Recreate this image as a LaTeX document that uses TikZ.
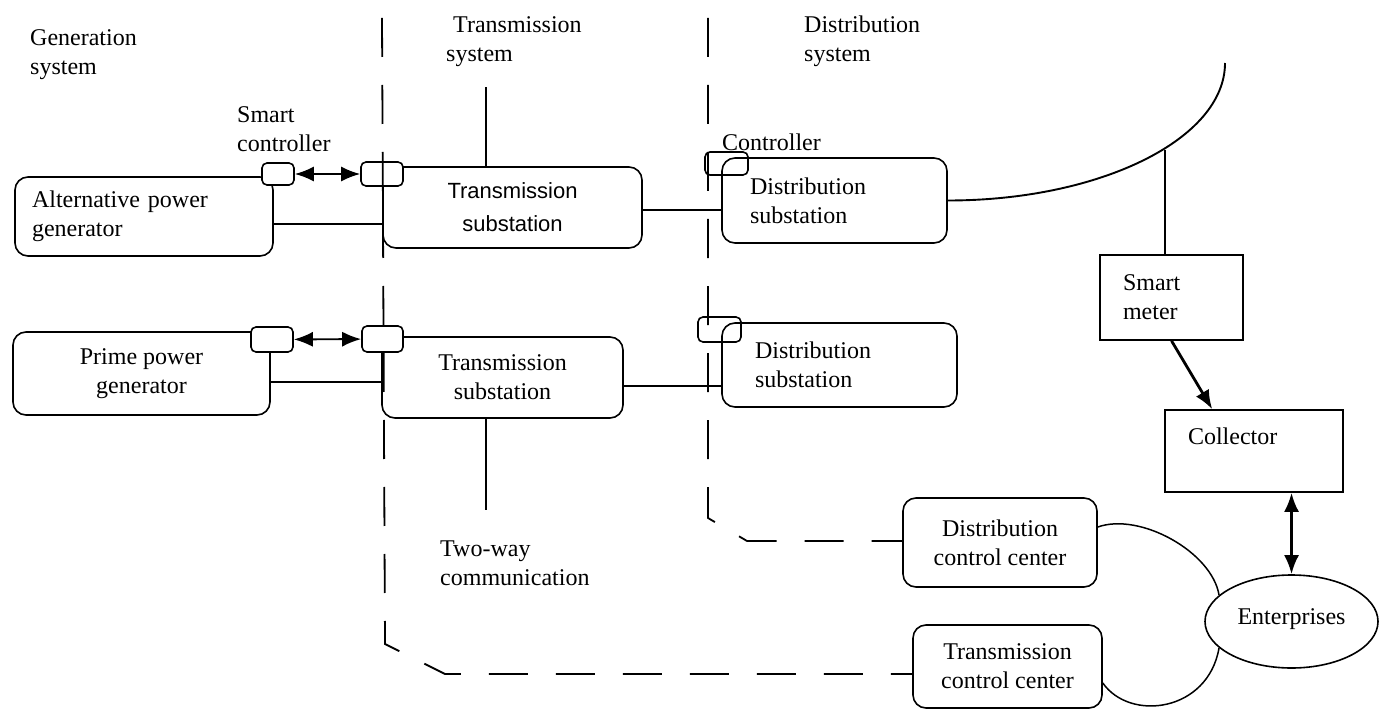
\documentclass[tikz,border=0pt]{standalone}
\usepackage{fontspec}
\setmainfont{Liberation Serif}
\newfontfamily\subfont{Liberation Sans}
\usepackage{tikz}
\usetikzlibrary{calc}
\usetikzlibrary{arrows.meta}
\usetikzlibrary{shapes.geometric}
\tikzstyle{every node}=[font=\fontsize{24}{29}\selectfont, inner sep=0pt]
\tikzstyle{unit}=[draw, line width=1.6pt, rounded corners=13pt]
\tikzstyle{plainbox}=[draw, line width=1.6pt]
\tikzstyle{ctrl}=[draw, line width=1.6pt, rounded corners=5pt]
\tikzstyle{wire}=[line width=2.8pt]
\tikzstyle{link}=[line width=1.9pt]
\tikzstyle{border}=[line width=1.8pt, dash pattern=on 39pt off 28pt]
\tikzstyle{lbl}=[align=left, anchor=north west]

\begin{document}
\begin{tikzpicture}[x=1pt, y=-1pt, >={Latex[length=19pt,width=15pt]}]
        \useasboundingbox (0,0) rectangle (1380,711);
        % generation and transmission
        \node[unit, minimum width=258pt, minimum height=79pt, inner xsep=17pt, text width=224pt, align=left] (altgen) at (144,216.5) {Alternative power\\generator};
        \node[unit, minimum width=257pt, minimum height=83pt, align=center] (primegen) at (141.5,373.5) {Prime power\\generator};
        \node[unit, minimum width=259pt, minimum height=81pt, align=center, font=\subfont\fontsize{22}{33}\selectfont] (tsubA) at (512.5,207.5) {Transmission\\substation};
        \node[unit, minimum width=241pt, minimum height=81pt, align=center] (tsubB) at (502.5,377.5) {Transmission\\substation};
        % distribution
        \node[unit, minimum width=225pt, minimum height=85pt, inner xsep=28pt, text width=169pt, align=left] (dsubA) at (834.5,200.5) {Distribution\\substation};
        \node[unit, minimum width=235pt, minimum height=84pt, inner xsep=33pt, text width=169pt, align=left] (dsubB) at (839.5,365) {Distribution\\substation};
        \node[unit, minimum width=194pt, minimum height=89pt, align=center] (dcc) at (1000,542.5) {Distribution\\control center};
        \node[unit, minimum width=189pt, minimum height=83pt, align=center] (tcc) at (1007.5,666.5) {Transmission\\control center};
        \node[plainbox, minimum width=143pt, minimum height=85pt, inner xsep=23pt, text width=97pt, align=left] (meter) at (1171.5,297.5) {Smart\\meter};
        \node[plainbox, minimum width=178pt, minimum height=82pt, inner xsep=23pt, text width=132pt, align=left, text depth=30pt] (coll) at (1254,451) {Collector};
        \node[draw, ellipse, line width=1.6pt, minimum width=173pt, minimum height=93pt, text depth=10pt] (ent) at (1291.5,621.5) {Enterprises};
        % controllers
        \node[ctrl, fill=white, minimum width=32pt, minimum height=22pt] (ctlA) at (278,174) {};
        \node[ctrl, fill=white, minimum width=42pt, minimum height=24pt] (ctlB) at (382,174) {};
        \node[ctrl, fill=white, minimum width=42pt, minimum height=25pt] (ctlC) at (272,339.5) {};
        \node[ctrl, fill=white, minimum width=41pt, minimum height=26pt] (ctlD) at (382.5,339) {};
        \node[ctrl, minimum width=43pt, minimum height=23pt] (ctlE) at (726.5,163.5) {};
        \node[ctrl, minimum width=43pt, minimum height=25pt] (ctlF) at (719.5,329.5) {};
        % texts
        \node[lbl] (gensys) at (30,29) {Generation\\system};
        \node[lbl] (transys) at (446,16) {\hspace*{7pt}Transmission\\system};
        \node[lbl] (distsys) at (804,16) {Distribution\\system};
        \node[lbl] (smartctl) at (237,106) {Smart\\controller};
        \node[lbl] (ctltxt) at (722,134) {Controller};
        \node[lbl] (twoway) at (440,541) {Two-way\\communication};
        \coordinate (tsTop) at (486,87);
        \coordinate (tsBot) at (486,510);
        \coordinate (feedEnd) at (1225,63);
        \coordinate (tap) at (1165,150);
        % links
        \draw[<->, link] (ctlA) -- (ctlB);
        \draw[<->, link] (ctlC) -- (ctlD);
        \draw[wire] (altgen.east |- 0,224) -- (tsubA.west |- 0,224);
        \draw[wire] (primegen.east |- 0,382) -- (tsubB.west |- 0,382);
        \draw[wire] (tsubA.north -| tsTop) -- (tsTop);
        \draw[wire] (tsubB.south -| tsBot) -- (tsBot);
        \draw[link] (tsubA.east |- 0,210) -- (dsubA.west |- 0,210);
        \draw[link] (tsubB.east |- 0,386) -- (dsubB.west |- 0,386);
        \draw[link] (dsubA.east) .. controls (1100,200.5) and (1225,139) .. (feedEnd);
        \draw[link] (tap) -- (tap |- meter.north);
        \draw[->, wire] (meter.south) -- ($(coll.north west)+(48,0)$);
        \draw[<->, wire] (coll.south -| ent.north) -- (ent.north);
        \draw[line width=1.5pt] (dcc.east |- 0,527) .. controls (1140,512) and (1212,552) .. (ent.160);
        \draw[line width=1.5pt] (tcc.east |- 0,683) .. controls (1130,722) and (1208,712) .. (ent.200);
        % system borders
        \draw[border] (382,18) -- (385,644) -- (445,674) -- (tcc.west |- 0,674);
        \draw[border] (708,18) -- (708,518) -- (747,541) -- (dcc.west |- 0,541);
    \end{tikzpicture}
\end{document}
